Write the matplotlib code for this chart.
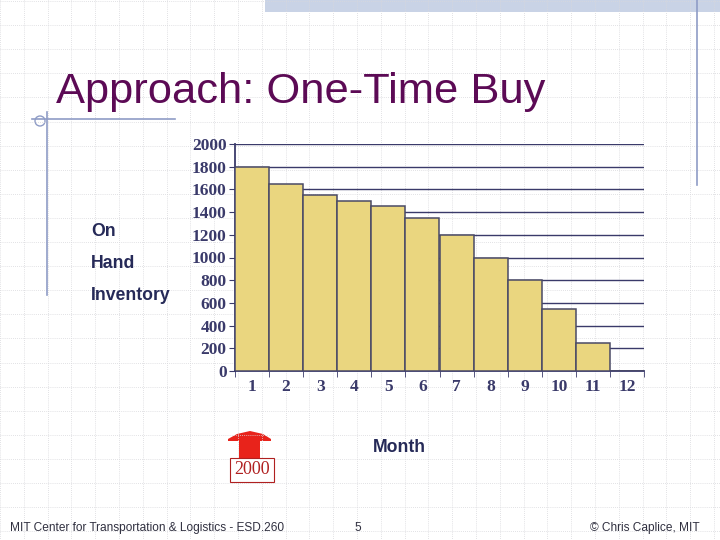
import matplotlib
matplotlib.use("Agg")
import matplotlib.pyplot as plt
from matplotlib.patches import Rectangle, Polygon, Circle
import numpy as np

months = [1, 2, 3, 4, 5, 6, 7, 8, 9, 10, 11, 12]
on_hand = [1800, 1650, 1550, 1500, 1450, 1350, 1200, 1000, 800, 550, 250, 0]
y_ticks = [0, 200, 400, 600, 800, 1000, 1200, 1400, 1600, 1800, 2000]

W, H = 720, 540
fig = plt.figure(figsize=(7.2, 5.4), dpi=100)
fig.patch.set_facecolor("white")

def fx(px):
    return px / W

def fy(py):
    return 1 - py / H

# background slide decoration
bg = fig.add_axes([0, 0, 1, 1], zorder=-10)
bg.set_xlim(0, W)
bg.set_ylim(H, 0)
bg.axis("off")
for gx in np.arange(0, W, 23.8):
    bg.plot([gx, gx], [0, H], color="#d8d8dc", lw=0.6, ls=(0, (1, 1.5)))
for gy in np.arange(1, H, 24.1):
    bg.plot([0, W], [gy, gy], color="#d8d8dc", lw=0.6, ls=(0, (1, 1.5)))
bg.add_patch(Rectangle((265, 0), 455, 12, facecolor="#c9d3e6", edgecolor="none"))
bg.plot([697, 697], [0, 185], color="#8f9cc6", lw=1.2)
bg.plot([32, 175], [119, 119], color="#8f9cc6", lw=1.2)
bg.plot([47, 47], [112, 295], color="#8f9cc6", lw=1.2)
bg.add_patch(Circle((40, 121), 5, facecolor="none", edgecolor="#8f9cc6", lw=1))
bg.add_patch(Rectangle((193, 132), 465, 268, facecolor="white", edgecolor="none", alpha=0.75))

fig.text(fx(56), fy(103), "Approach: One-Time Buy", color="#5c0a55",
         fontsize=31.3, family="Liberation Sans", ha="left", va="baseline")

ax = fig.add_axes([fx(235), fy(371), fx(409), (371 - 144) / H])
ax.set_facecolor("none")
ax.bar(months, on_hand, width=1.0, color="#ead67f", edgecolor="#4a4a66",
       linewidth=1.1, zorder=3)
ax.set_xlim(0.5, 12.5)
ax.set_ylim(0, 2000)
ax.set_yticks(y_ticks)
ax.set_yticklabels([str(v) for v in y_ticks])
ax.set_xticks(months)
ax.set_xticklabels([str(m) for m in months])
ax.set_xticks(np.arange(0.5, 13, 1), minor=True)
ax.tick_params(axis="x", which="major", length=0, pad=6)
ax.tick_params(axis="x", which="minor", length=4, color="#3a3a6a", direction="out")
ax.tick_params(axis="y", length=4, color="#3a3a6a", pad=2)
for lab in ax.get_xticklabels() + ax.get_yticklabels():
    lab.set_family("Liberation Serif")
    lab.set_fontweight("bold")
    lab.set_color("#3a3a6a")
    lab.set_fontsize(12.5)
ax.yaxis.grid(True, color="#3a3a6a", lw=1.0, zorder=0)
ax.set_axisbelow(True)
for s in ["top", "right"]:
    ax.spines[s].set_visible(False)
for s in ["left", "bottom"]:
    ax.spines[s].set_color("#3a3a6a")
    ax.spines[s].set_linewidth(1.3)

lab_kw = dict(color="#262a58", fontsize=12.7, fontweight="bold", family="Liberation Sans",
              ha="left", va="center")
fig.text(fx(91), fy(231), "On", **lab_kw)
fig.text(fx(91), fy(264), "Hand", **lab_kw)
fig.text(fx(91), fy(296), "Inventory", **lab_kw)
fig.text(fx(373), fy(447), "Month", **lab_kw)

# red arrow and 2000 box
arrow_pts = [(239, 458), (239, 441), (228, 441), (228, 439), (237, 434), (250, 431),
             (263, 434), (271, 439), (271, 441), (260, 441), (260, 458)]
bg.add_patch(Polygon(arrow_pts, closed=True, facecolor="#e8231b", edgecolor="none"))
fig.text(fx(252), fy(470), "2000", color="#b02020", fontsize=13,
         family="Liberation Serif", ha="center", va="center",
         bbox=dict(boxstyle="square,pad=0.22", facecolor="white", edgecolor="#b02020", lw=0.8))

foot_kw = dict(color="#303040", fontsize=8.6, family="Liberation Sans", va="center")
fig.text(fx(10), fy(528), "MIT Center for Transportation & Logistics - ESD.260", ha="left", **foot_kw)
fig.text(fx(358), fy(528), "5", ha="center", **foot_kw)
fig.text(fx(700), fy(528), "© Chris Caplice, MIT", ha="right", **foot_kw)

fig.savefig("out.png", dpi=100)
